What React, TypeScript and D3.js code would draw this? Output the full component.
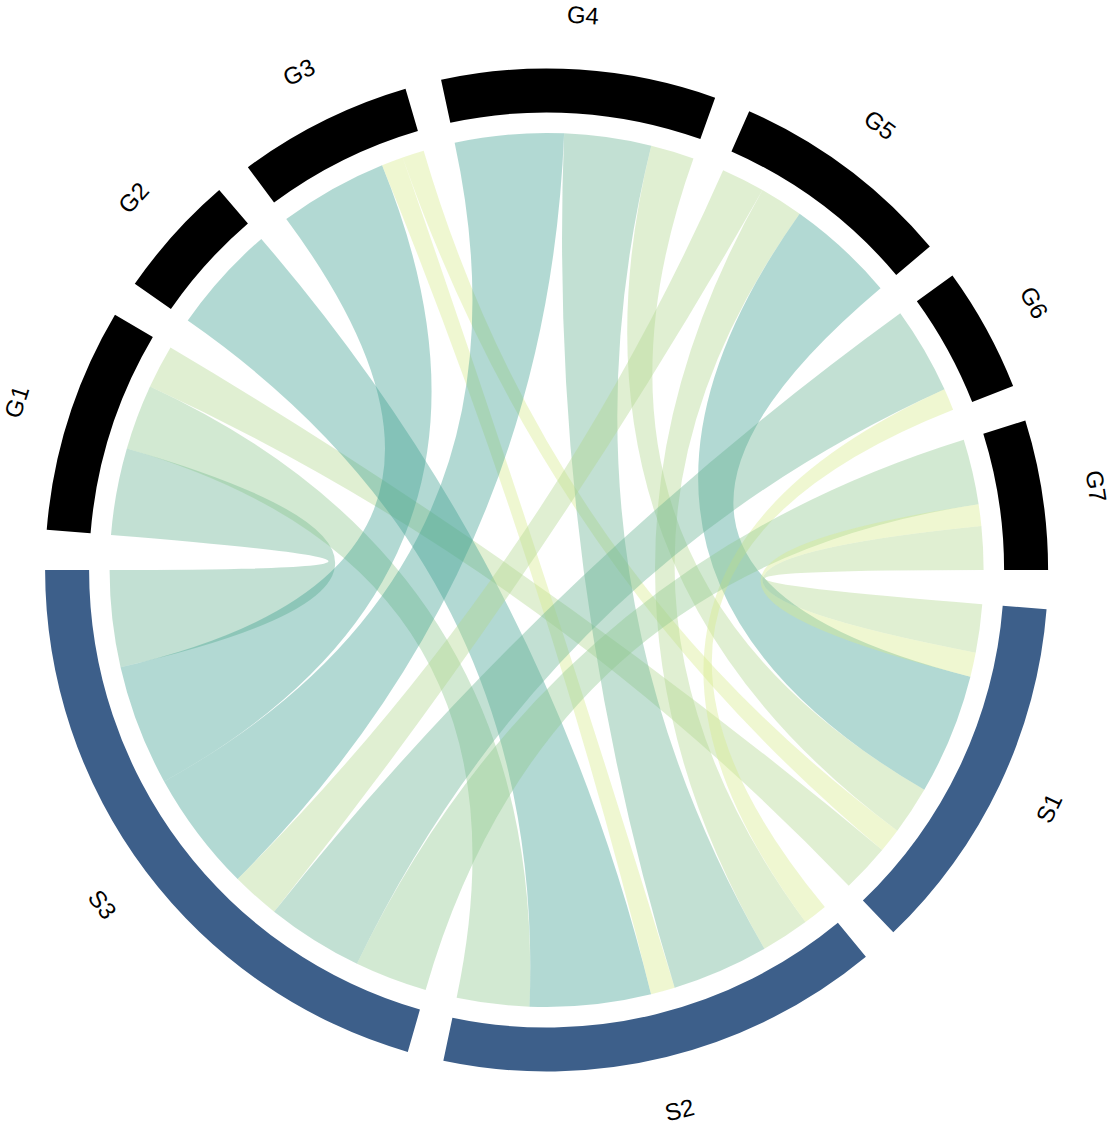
import React from 'react';
import * as d3 from 'd3';

// Sectors (clockwise order)
const gSectors = ['G1', 'G2', 'G3', 'G4', 'G5', 'G6', 'G7'];
const sSectors = ['S1', 'S2', 'S3'];

// Links (data-frame rows)
const linkFrom = ['G1', 'G1', 'G1', 'G2', 'G3', 'G3', 'G3', 'G4', 'G4', 'G4', 'G5', 'G5', 'G5', 'G6', 'G6', 'G7', 'G7', 'G7'];
const linkTo = ['S3', 'S2', 'S1', 'S2', 'S3', 'S2', 'S1', 'S3', 'S2', 'S1', 'S3', 'S2', 'S1', 'S3', 'S2', 'S3', 'S1', 'S1'];
const linkValue = [4, 3, 2, 5, 5, 1, 1, 5, 4, 2, 2, 2, 5, 4, 1, 3, 2, 1];

// colour by value (1..5)
const valueColors = ['#d7eb8c', '#b1d78e', '#8ec88e', '#66b191', '#3ea091'];
const linkOpacity = 0.4;
const gColor = '#000000';
const sColor = '#3d5f8a';

const W = 1111;
const H = 1126;
const CX = 546.6;
const CY = 570;
const R_CHORD = 437;
const R_IN = 457.5;
const R_OUT = 501.5;
const R_LABEL = 556;
const GAP = 4.19;
const G_START = -85.4;
const G_END = 90;
const S_START = 94.48;
const S_END = 270;

const rad = (d: number) => (d * Math.PI) / 180;

type Sector = { name: string; start: number; end: number; group: 'G' | 'S' };

function layout() {
  const gTot = gSectors.map((g) => d3.sum(linkValue.filter((_, i) => linkFrom[i] === g)));
  const sTot = sSectors.map((s) => d3.sum(linkValue.filter((_, i) => linkTo[i] === s)));
  const uG = (G_END - G_START - (gSectors.length - 1) * GAP) / d3.sum(gTot);
  const uS = (S_END - S_START - (sSectors.length - 1) * GAP) / d3.sum(sTot);
  const sectors: Sector[] = [];
  let cur = G_START;
  gSectors.forEach((g, i) => {
    sectors.push({ name: g, start: cur, end: cur + gTot[i] * uG, group: 'G' });
    cur += gTot[i] * uG + GAP;
  });
  cur = S_START;
  sSectors.forEach((s, i) => {
    sectors.push({ name: s, start: cur, end: cur + sTot[i] * uS, group: 'S' });
    cur += sTot[i] * uS + GAP;
  });

  const src: { a0: number; a1: number }[] = [];
  const tgt: { a0: number; a1: number }[] = [];
  gSectors.forEach((g) => {
    const sec = sectors.find((s) => s.name === g)!;
    const idx = linkValue.map((_, i) => i).filter((i) => linkFrom[i] === g);
    idx.sort((a, b) => {
      const d = sSectors.indexOf(linkTo[b]) - sSectors.indexOf(linkTo[a]);
      return d !== 0 ? d : b - a;
    });
    let c = sec.start;
    idx.forEach((i) => {
      src[i] = { a0: c, a1: c + linkValue[i] * uG };
      c += linkValue[i] * uG;
    });
  });
  sSectors.forEach((s) => {
    const sec = sectors.find((x) => x.name === s)!;
    const idx = linkValue.map((_, i) => i).filter((i) => linkTo[i] === s);
    idx.sort((a, b) => {
      const d = gSectors.indexOf(linkFrom[b]) - gSectors.indexOf(linkFrom[a]);
      return d !== 0 ? d : a - b;
    });
    let c = sec.start;
    idx.forEach((i) => {
      tgt[i] = { a0: c, a1: c + linkValue[i] * uS };
      c += linkValue[i] * uS;
    });
  });
  return { sectors, src, tgt };
}

export default function App() {
  const { sectors, src, tgt } = layout();
  const ribbon = d3.ribbon<any, any>().radius(R_CHORD);
  const arc = d3.arc<any>().innerRadius(R_IN).outerRadius(R_OUT);

  return (
    <svg
      width={W}
      height={H}
      style={{ position: 'absolute', left: 0, top: 0, background: '#fff' }}
    >
      <g transform={`translate(${CX},${CY})`}>
        {linkValue.map((v, i) => (
          <path
            key={'l' + i}
            d={
              ribbon({
                source: { startAngle: rad(src[i].a0), endAngle: rad(src[i].a1) },
                target: { startAngle: rad(tgt[i].a0), endAngle: rad(tgt[i].a1) },
              }) as unknown as string
            }
            fill={valueColors[v - 1]}
            fillOpacity={linkOpacity}
            stroke="none"
          />
        ))}
        {sectors.map((s) => (
          <path
            key={'s' + s.name}
            d={arc({ startAngle: rad(s.start), endAngle: rad(s.end) }) as string}
            fill={s.group === 'G' ? gColor : sColor}
          />
        ))}
        {sectors.map((s) => {
          const mid = (s.start + s.end) / 2;
          const x = R_LABEL * Math.sin(rad(mid));
          const y = -R_LABEL * Math.cos(rad(mid));
          const rot = mid > 90 && mid < 270 ? mid - 180 : mid;
          return (
            <text
              key={'t' + s.name}
              transform={`translate(${x},${y}) rotate(${rot})`}
              textAnchor="middle"
              dy="0.35em"
              fontFamily="'Liberation Sans', Arial, sans-serif"
              fontSize={24}
              fill="#000"
            >
              {s.name}
            </text>
          );
        })}
      </g>
    </svg>
  );
}
